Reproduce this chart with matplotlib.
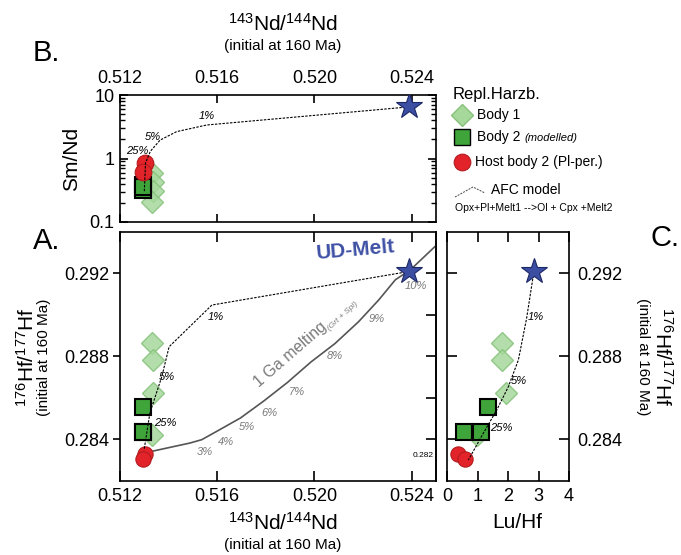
import matplotlib
matplotlib.use("Agg")
import matplotlib.pyplot as plt
from matplotlib.lines import Line2D
from matplotlib.ticker import FixedLocator, NullFormatter, LogLocator
import numpy as np

plt.rcParams['font.family'] = ['Liberation Sans', 'DejaVu Sans']
plt.rcParams['mathtext.fontset'] = 'custom'
plt.rcParams['mathtext.rm'] = 'Liberation Sans'
plt.rcParams['mathtext.it'] = 'Liberation Sans:italic'

# ---- Replacive harzburgite, Body 1 ----
body1_nd = [0.51333, 0.51334, 0.51336, 0.51333]
body1_hf = [0.28866, 0.28781, 0.28624, 0.28422]
body1_smnd = [0.60, 0.43, 0.31, 0.21]
body1_luhf = [1.79, 1.79, 1.93, 0.97]

# ---- Replacive harzburgite, Body 2 (modelled) ----
body2_nd = [0.51293, 0.51293, 0.51294]
body2_hf = [0.28555, 0.28436, 0.28436]
body2_smnd = [0.38, 0.32, 0.35]
body2_luhf = [1.35, 0.56, 1.10]

# ---- Host body 2 (Pl-peridotite) ----
host_nd = [0.51302, 0.51294]
host_hf = [0.28330, 0.28308]
host_smnd = [0.84, 0.62]
host_luhf = [0.37, 0.59]

# ---- UD-Melt end member ----
melt_nd = 0.5239
melt_hf = 0.2921
melt_smnd = 6.6
melt_luhf = 2.85

# ---- AFC model curves ----
afc_a_nd = [0.5239, 0.51578, 0.51402, 0.51372, 0.51323, 0.51299]
afc_a_hf = [0.2921, 0.29048, 0.28847, 0.28703, 0.28528, 0.28349]
afc_b_nd = [0.5239, 0.51557, 0.51433, 0.51365, 0.51325, 0.51305, 0.51300]
afc_b_smnd = [6.5, 3.37, 2.65, 1.95, 1.30, 0.85, 0.30]
afc_c_luhf = [2.85, 2.61, 2.34, 2.01, 1.63, 1.19, 0.70]
afc_c_hf = [0.2921, 0.28984, 0.28783, 0.28654, 0.28542, 0.28430, 0.28301]

afc_labels = ['1%', '5%', '25%']
afc_lab_a = [(0.51592, 0.28991), (0.51392, 0.28703), (0.51385, 0.28481)]
afc_lab_b = [(0.51557, 4.67), (0.51337, 2.20), (0.51269, 1.31)]
afc_lab_c = [(2.92, 0.28989), (2.37, 0.28682), (1.79, 0.28455)]

# ---- 1 Ga melting curve (Grt + Spl) ----
melt1ga_nd = [0.51323, 0.51488, 0.51536, 0.51599, 0.51696, 0.51792, 0.51889,
              0.51986, 0.52084, 0.52181, 0.52264, 0.52333, 0.52395, 0.52512]
melt1ga_hf = [0.28341, 0.28383, 0.28399, 0.28440, 0.28504, 0.28586, 0.28675,
              0.28774, 0.28862, 0.28967, 0.29072, 0.29170, 0.29218, 0.29348]
melt_pct = ['3%', '4%', '5%', '6%', '7%', '8%', '9%', '10%']
melt_pct_nd = [0.51550, 0.51634, 0.51723, 0.51813, 0.51928, 0.52084, 0.52257, 0.52419]
melt_pct_hf = [0.28342, 0.28388, 0.28459, 0.28529, 0.28631, 0.28802, 0.28983, 0.29141]

nd_ticks = [0.512, 0.516, 0.520, 0.524]
hf_ticks = [0.284, 0.288, 0.292]
luhf_ticks = [0, 1, 2, 3, 4]

# ---- styles ----
C_D_FACE, C_D_EDGE = '#a6d89c', '#86c27a'
C_S_FACE = '#3fa53b'
C_C_FACE, C_C_EDGE = '#e2232a', '#b31b1f'
C_STAR, C_STAR_EDGE = '#3b4ea2', '#1c2766'
C_GREY = '#7a7a7a'

W, H = 681, 555
fig = plt.figure(figsize=(W / 100, H / 100), dpi=100)


def box(x0, y0, x1, y1):
    return [x0 / W, 1 - y1 / H, (x1 - x0) / W, (y1 - y0) / H]


def fx(p):
    return p / W


def fy(p):
    return 1 - p / H


axB = fig.add_axes(box(120, 95, 436, 222))
axA = fig.add_axes(box(120, 232, 436, 481))
axC = fig.add_axes(box(447, 232, 569, 481))

for ax in (axA, axB, axC):
    for s in ax.spines.values():
        s.set_linewidth(1.2)


def samples(ax, xs1, ys1, xs2, ys2, xs3, ys3, xs4, ys4, circle_ms=11):
    ax.plot(xs1, ys1, 'D', ms=11, mfc=C_D_FACE, mec=C_D_EDGE, mew=1.0,
            alpha=0.85, ls='none', zorder=3)
    ax.plot(xs2, ys2, 's', ms=11, mfc=C_S_FACE, mec='black', mew=1.5,
            ls='none', zorder=4)
    ax.plot(xs3, ys3, 'o', ms=circle_ms, mfc=C_C_FACE, mec=C_C_EDGE, mew=0.8,
            ls='none', zorder=5)
    ax.plot([xs4], [ys4], '*', ms=19, mfc=C_STAR, mec=C_STAR_EDGE, mew=0.8,
            ls='none', zorder=8)


afc_style = dict(color='black', lw=0.8, ls=(0, (2.2, 1.2)), zorder=7)
pct_style = dict(fontsize=8, style='italic', ha='center', va='center', zorder=9)

# ---------- Panel B: Sm/Nd vs 143Nd/144Nd ----------
axB.plot(afc_b_nd, afc_b_smnd, **afc_style)
samples(axB, body1_nd, body1_smnd, body2_nd, body2_smnd,
        host_nd, host_smnd, melt_nd, melt_smnd, circle_ms=12)
for lab, (x, y) in zip(afc_labels, afc_lab_b):
    axB.text(x, y, lab, **pct_style)
axB.set_yscale('log')
axB.set_ylim(0.1, 10)
axB.set_xlim(0.512, 0.525)
axB.xaxis.set_major_locator(FixedLocator(nd_ticks))
axB.set_xticklabels(['%.3f' % t for t in nd_ticks])
axB.tick_params(axis='x', direction='in', top=True, bottom=True,
                labeltop=True, labelbottom=False, length=6, width=1.2,
                labelsize=13, pad=6)
axB.set_yticks([0.1, 1, 10])
axB.set_yticklabels(['0.1', '1', '10'])
axB.yaxis.set_minor_locator(LogLocator(base=10, subs=np.arange(2, 10)))
axB.yaxis.set_minor_formatter(NullFormatter())
axB.tick_params(axis='y', which='major', direction='in', left=True,
                right=True, length=6, width=1.2, labelsize=13, pad=4)
axB.tick_params(axis='y', which='minor', direction='in', left=True,
                right=True, length=3.5, width=1.0)
axB.set_ylabel('Sm/Nd', fontsize=15, labelpad=6)

# ---------- Panel A: 176Hf/177Hf vs 143Nd/144Nd ----------
axA.plot(melt1ga_nd, melt1ga_hf, color='#555555', lw=1.2, zorder=2)
axA.plot(afc_a_nd, afc_a_hf, **afc_style)
samples(axA, body1_nd, body1_hf, body2_nd, body2_hf,
        host_nd, host_hf, melt_nd, melt_hf)
for lab, (x, y) in zip(afc_labels, afc_lab_a):
    axA.text(x, y, lab, **pct_style)
for lab, x, y in zip(melt_pct, melt_pct_nd, melt_pct_hf):
    axA.text(x, y, lab, color=C_GREY, **pct_style)
axA.text(0.51900, 0.28808, '1 Ga melting', fontsize=11.5, color=C_GREY,
         rotation=41, ha='center', va='center', rotation_mode='anchor')
axA.text(0.52118, 0.28992, '(Grt + Spl)', fontsize=6, color=C_GREY,
         style='italic', rotation=43, ha='center', va='center',
         rotation_mode='anchor')
axA.text(0.52171, 0.29313, 'UD-Melt', fontsize=15, fontweight='bold',
         color='#3f51a5', ha='center', va='center', rotation=5,
         rotation_mode='anchor')
axA.text(0.52446, 0.28325, '0.282', fontsize=6, ha='center', va='center')
axA.set_xlim(0.512, 0.525)
axA.set_ylim(0.282, 0.294)
axA.xaxis.set_major_locator(FixedLocator(nd_ticks))
axA.set_xticklabels(['%.3f' % t for t in nd_ticks])
axA.tick_params(axis='x', direction='in', top=True, bottom=True,
                length=7, width=1.2, labelsize=13, pad=5)
axA.yaxis.set_major_locator(FixedLocator(hf_ticks))
axA.set_yticklabels(['%.3f' % t for t in hf_ticks])
axA.tick_params(axis='y', direction='out', left=True, right=False,
                length=5, width=1.2, labelsize=13, pad=3)
secA = axA.secondary_yaxis('right')
secA.set_yticks(np.arange(0.284, 0.2935, 0.002))
secA.set_yticklabels([])
secA.tick_params(direction='in', length=7, width=1.2)
secA.spines['right'].set_linewidth(1.2)

# ---------- Panel C: 176Hf/177Hf vs Lu/Hf ----------
axC.plot(afc_c_luhf, afc_c_hf, **afc_style)
samples(axC, body1_luhf, body1_hf, body2_luhf, body2_hf,
        host_luhf, host_hf, melt_luhf, melt_hf)
for lab, (x, y) in zip(afc_labels, afc_lab_c):
    axC.text(x, y, lab, **pct_style)
axC.set_xlim(0, 4)
axC.set_ylim(0.282, 0.294)
axC.set_xticks(luhf_ticks)
axC.set_xticklabels([str(t) for t in luhf_ticks])
axC.tick_params(axis='x', direction='in', top=True, bottom=True,
                length=7, width=1.2, labelsize=13, pad=5)
axC.yaxis.set_major_locator(FixedLocator(hf_ticks))
axC.set_yticklabels(['%.3f' % t for t in hf_ticks])
axC.tick_params(axis='y', direction='in', left=True, right=True,
                labelleft=False, labelright=True, length=7, width=1.2,
                labelsize=13, pad=6)

# ---------- axis titles ----------
nd_label = r'$^{143}$Nd/$^{144}$Nd'
hf_label = r'$^{176}$Hf/$^{177}$Hf'
init_label = '(initial at 160 Ma)'
fig.text(fx(283), fy(24), nd_label, fontsize=15, ha='center', va='center')
fig.text(fx(283), fy(46), init_label, fontsize=11, ha='center', va='center')
fig.text(fx(283), fy(523), nd_label, fontsize=15, ha='center', va='center')
fig.text(fx(283), fy(545), init_label, fontsize=11, ha='center', va='center')
fig.text(fx(517), fy(523), 'Lu/Hf', fontsize=15, ha='center', va='center')
fig.text(fx(27), fy(357), hf_label, fontsize=15, rotation=90,
         ha='center', va='center')
fig.text(fx(44), fy(357), init_label, fontsize=11, rotation=90,
         ha='center', va='center')
fig.text(fx(662), fy(357), hf_label, fontsize=15, rotation=270,
         ha='center', va='center')
fig.text(fx(643), fy(357), init_label, fontsize=11, rotation=270,
         ha='center', va='center')

fig.text(fx(33), fy(53), 'B.', fontsize=21, ha='left', va='center')
fig.text(fx(33), fy(241), 'A.', fontsize=21, ha='left', va='center')
fig.text(fx(651), fy(238), 'C.', fontsize=21, ha='left', va='center')

# ---------- legend ----------
fig.text(fx(453), fy(95), 'Repl.Harzb.', fontsize=12, ha='left', va='center')
fig.add_artist(Line2D([fx(462)], [fy(115)], transform=fig.transFigure,
                      marker='D', ms=11, mfc=C_D_FACE, mec=C_D_EDGE, mew=1.0,
                      ls='none'))
fig.text(fx(477), fy(115), 'Body 1', fontsize=10, ha='left', va='center')
fig.add_artist(Line2D([fx(462)], [fy(137)], transform=fig.transFigure,
                      marker='s', ms=11, mfc=C_S_FACE, mec='black', mew=1.0,
                      ls='none'))
fig.text(fx(477), fy(137), 'Body 2', fontsize=10, ha='left', va='center')
fig.text(fx(524), fy(138), '(modelled)', fontsize=8, style='italic',
         ha='left', va='center')
fig.add_artist(Line2D([fx(462)], [fy(162)], transform=fig.transFigure,
                      marker='o', ms=12, mfc=C_C_FACE, mec=C_C_EDGE, mew=0.8,
                      ls='none'))
fig.text(fx(475), fy(162), 'Host body 2 (Pl-per.)', fontsize=10,
         ha='left', va='center')
fig.add_artist(Line2D([fx(455), fx(473), fx(485)],
                      [fy(197), fy(187), fy(193)],
                      transform=fig.transFigure, color='#444444', lw=0.7,
                      ls=(0, (2, 1.2))))
fig.text(fx(491), fy(190), 'AFC model', fontsize=10, ha='left', va='center')
fig.text(fx(455), fy(208), 'Opx+Pl+Melt1 -->Ol + Cpx +Melt2', fontsize=7.5,
         ha='left', va='center')

fig.savefig('out.png', dpi=100)
